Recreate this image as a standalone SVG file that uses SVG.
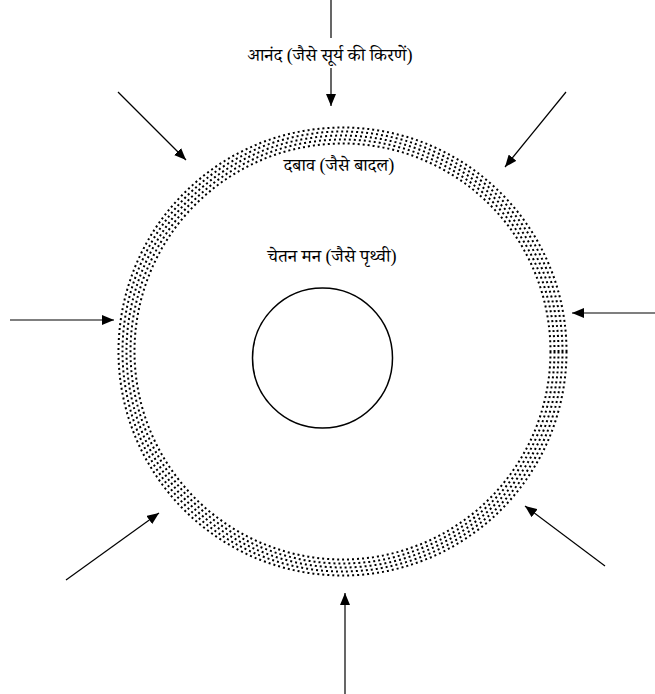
<svg xmlns="http://www.w3.org/2000/svg" width="655" height="694" viewBox="0 0 655 694">
<style>
  .lbl { font-family: "Liberation Serif", "Noto Serif Devanagari", "Noto Sans Devanagari", "Noto Sans", serif; font-size: 18.2px; fill: #000; text-anchor: middle; }
  .ring { fill: none; stroke: #000; stroke-width: 2; stroke-dasharray: 2 3; }
  .arr { stroke: #000; stroke-width: 1.2; fill: none; marker-end: url(#ah); }
</style>
<defs>
  <marker id="ah" viewBox="0 0 12 10" refX="12" refY="5" markerWidth="12" markerHeight="10" markerUnits="userSpaceOnUse" orient="auto">
    <path d="M0,0 L12,5 L0,10 Z" fill="#000"/>
  </marker>
</defs>
<rect width="655" height="694" fill="#fff"/>
<g id="pressure-ring">
  <circle class="ring" cx="342.5" cy="351.5" r="208"/>
  <circle class="ring" cx="342.5" cy="351.5" r="212"/>
  <circle class="ring" cx="342.5" cy="351.5" r="216"/>
  <circle class="ring" cx="342.5" cy="351.5" r="220"/>
  <circle class="ring" cx="342.5" cy="351.5" r="224"/>
  <text class="lbl" x="339" y="171">दबाव (जैसे बादल)</text>
</g>
<g id="conscious-mind">
  <circle cx="322.5" cy="358" r="70" fill="none" stroke="#000" stroke-width="1.5"/>
  <text class="lbl" x="332" y="262">चेतन मन (जैसे पृथ्वी)</text>
</g>
<g id="connectors">
  <line x1="331" y1="0" x2="331" y2="38" stroke="#000" stroke-width="1.2"/>
  <line class="arr" x1="331" y1="68" x2="331" y2="106"/>
  <line class="arr" x1="118" y1="92" x2="186" y2="160"/>
  <line class="arr" x1="566" y1="92" x2="505" y2="167"/>
  <line class="arr" x1="10" y1="320" x2="114" y2="320"/>
  <line class="arr" x1="655" y1="313" x2="572" y2="313"/>
  <line class="arr" x1="66" y1="580" x2="159" y2="513"/>
  <line class="arr" x1="605" y1="566" x2="525" y2="506"/>
  <line class="arr" x1="345" y1="694" x2="345" y2="593"/>
</g>
<g id="joy">
  <text class="lbl" x="330" y="61">आनंद (जैसे सूर्य की किरणें)</text>
</g>
</svg>
